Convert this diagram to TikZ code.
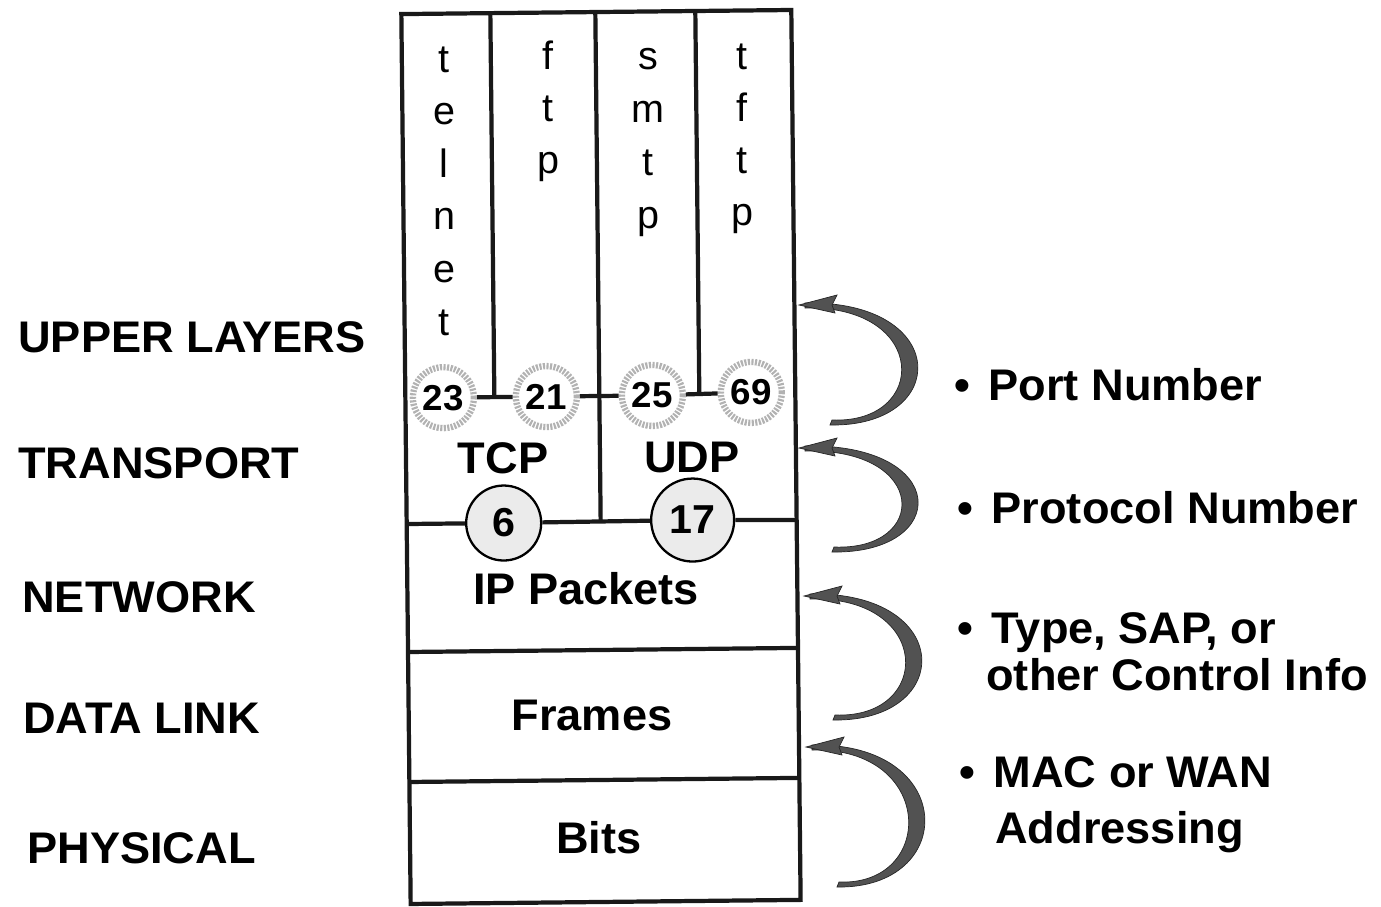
\documentclass[tikz,border=0pt]{standalone}
\usepackage{fontspec}
\setmainfont{Liberation Sans}
\newfontfamily\widesans[FakeStretch=1.02]{Liberation Sans}
\usetikzlibrary{calc}
\newcommand\mylabfont{\widesans\fontsize{25.2}{30}\selectfont\bfseries}
\newcommand\myletfont{\fontsize{22.5}{27}\selectfont}
\newcommand\myportfont{\widesans\fontsize{20.5}{24}\selectfont\bfseries}
\newcommand\myprotofont{\widesans\fontsize{23}{26}\selectfont\bfseries}
\newcommand\crarrow[5]{%
  \fill[arrowfill] (#1,#2-2) .. controls (#5,#2-5) and (#5,#4+4) .. (#3,#4+2)
     -- (#3+2,#4-3) .. controls (#5-22,#4+1) and (#5-22,#2) .. (#1,#2+3) -- cycle;
  \fill[arrowfill] (#1-6,#2) -- (#1+32,#2-10) -- (#1+27,#2) -- (#1+30,#2+8) -- cycle;}
\begin{document}
\begin{tikzpicture}[x=0.02cm,y=-0.02cm,
  boxline/.style={line width=2.4pt, black!90},
  port/.style={circle, minimum size=1.22cm, inner sep=0pt, fill=white, draw=black!30,
     line width=3.6pt, dash pattern=on 1.2pt off 0.8pt, font=\myportfont},
  proto/.style={circle, inner sep=0pt, fill=black!8, draw=black, line width=1.3pt, font=\myprotofont},
  lay/.style={anchor=base west, inner sep=0pt, font=\mylabfont},
  lbl/.style={anchor=base, inner sep=0pt, font=\mylabfont},
  let/.style={anchor=base, inner sep=0pt, font=\myletfont},
  arrowfill/.style={fill=black!68, draw=black!85, line width=0.4pt}
]
\useasboundingbox (0,0) rectangle (1381,906);

% ---------- box (slightly rotated, as in the scan) ----------
\begin{scope}[rotate around={0.6:(600,458)}]
  \coordinate (TL) at (406,12);
  \coordinate (BR) at (796,902);
  \draw[boxline] (TL) rectangle (BR);
  \coordinate (nL) at (406,522); \coordinate (nR) at (796,522);
  \coordinate (dL) at (406,650); \coordinate (dR) at (796,650);
  \coordinate (pL) at (406,780); \coordinate (pR) at (796,780);
  \draw[boxline] (dL) -- (dR);
  \draw[boxline] (pL) -- (pR);

  \node[port] (c23) at (444,396) {23};
  \node[port] (c21) at (547,396) {21};
  \node[port] (c25) at (653,396) {25};
  \node[port] (c69) at (752,394) {69};
  \node[proto, minimum size=1.5cm] (c6) at (503,522) {6};
  \node[proto, minimum size=1.66cm] (c17) at (692,521) {17};

  \draw[boxline] (nL) -- (c6) -- (c17) -- (nR);
  \draw[boxline] (c23) -- (c21);
  \draw[boxline] (c21) -- (c25);
  \draw[boxline] (c25) -- (c69);
  \coordinate (m1) at ($(c23)!0.5!(c21)$);
  \coordinate (m3) at ($(c25)!0.5!(c69)$);
  \coordinate (d1t) at (495,12);
  \coordinate (d2t) at (600,12); \coordinate (d2b) at (600,522);
  \coordinate (d3t) at (700,12);
  \draw[boxline] (d1t) -- (d1t |- m1);
  \draw[boxline] (d2t) -- (d2b);
  \draw[boxline] (d3t) -- (d3t |- m3);
\end{scope}

% ---------- vertical application names ----------
\foreach \ch [count=\i from 0] in {t,e,l,n,e,t}
  \node[let] (tel\i) at (444,72+52.6*\i) {\ch};
\foreach \ch [count=\i from 0] in {f,t,p}
  \node[let] (ftp\i) at (548,69+52.4*\i) {\ch};
\foreach \ch [count=\i from 0] in {s,m,t,p}
  \node[let] (smtp\i) at (648,69+53*\i) {\ch};
\foreach \ch [count=\i from 0] in {t,f,t,p}
  \node[let] (tftp\i) at (742,69+52.2*\i) {\ch};

% ---------- labels inside box ----------
\node[lbl] (tcp) at (503,473) {TCP};
\node[lbl] (udp) at (692,472) {UDP};
\node[lbl] (ip) at (586,604) {IP Packets};
\node[lbl] (frames) at (592,730) {Frames};
\node[lbl] (bits) at (599,853) {Bits};

% ---------- layer names ----------
\node[lay] (upper) at (18,352) {UPPER LAYERS};
\node[lay] (transport) at (18,478) {TRANSPORT};
\node[lay] (network) at (22,612) {NETWORK};
\node[lay] (datalink) at (23,733) {DATA LINK};
\node[lay] (physical) at (27,863) {PHYSICAL};

% ---------- right-hand notes ----------
\node[lay] (r1) at (954,400) {•\hspace{0.12cm} Port Number};
\node[lay] (r2) at (957,523) {•\hspace{0.12cm} Protocol Number};
\node[lay] (r3) at (957,643) {•\hspace{0.12cm} Type, SAP, or};
\node[lay] (r3b) at (986,690) {other Control Info};
\node[lay] (r4) at (959,787) {•\hspace{0.12cm} MAC or WAN};
\node[lay] (r4b) at (995,843) {Addressing};

% ---------- curved arrows ----------
\crarrow{805}{305}{830}{423}{951}
\crarrow{805}{448}{832}{550}{951}
\crarrow{810}{596}{833}{718}{955}
\crarrow{812}{747}{837}{885}{958}
\end{tikzpicture}
\end{document}
